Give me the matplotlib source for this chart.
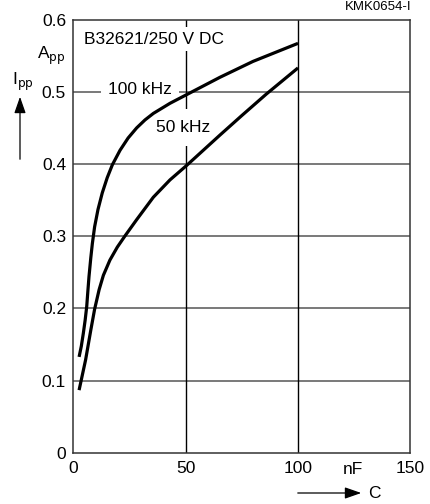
import matplotlib
matplotlib.use('Agg')
import matplotlib.pyplot as plt
from matplotlib.patches import FancyArrowPatch

plt.rcParams['font.family'] = ['Liberation Sans', 'DejaVu Sans']

# curves (C in nF, I in A_pp)
c_100k = [2.7, 3.7, 4.6, 5.4, 6.1, 6.6, 7.1, 7.9, 8.6, 9.6, 11.1, 13.0, 15.2, 17.5, 20.9, 24.5, 28.3, 32.0, 35.7, 43.1, 50.5, 65.3, 80.0, 100.0]
i_100k = [0.133, 0.148, 0.166, 0.184, 0.203, 0.224, 0.244, 0.270, 0.290, 0.313, 0.337, 0.360, 0.381, 0.399, 0.419, 0.436, 0.450, 0.461, 0.470, 0.484, 0.496, 0.520, 0.542, 0.567]

c_50k = [2.7, 5.6, 7.9, 9.6, 11.6, 13.5, 16.4, 19.7, 23.0, 28.3, 35.7, 43.1, 50.5, 57.9, 65.3, 75.0, 86.0, 100.0]
i_50k = [0.087, 0.129, 0.170, 0.199, 0.226, 0.246, 0.267, 0.285, 0.300, 0.323, 0.354, 0.378, 0.398, 0.419, 0.440, 0.467, 0.497, 0.533]

xticks = [0, 50, 100, 150]
yticks = [0, 0.1, 0.2, 0.3, 0.4, 0.5, 0.6]
fs = 12.5

fig = plt.figure(figsize=(4.31, 5.04), dpi=100)
ax = fig.add_axes([0.1694, 0.1012, 0.7830, 0.8601])

ax.plot(c_100k, i_100k, color='black', lw=2.3, solid_capstyle='butt', solid_joinstyle='round', zorder=3)
ax.plot(c_50k, i_50k, color='black', lw=2.3, solid_capstyle='butt', solid_joinstyle='round', zorder=3)

ax.set_xlim(0, 150)
ax.set_ylim(0, 0.6)
ax.set_xticks(xticks)
ax.set_yticks(yticks)
ax.set_xticklabels(['0', '50', '100', '150'])
ax.set_yticklabels(['0', '0.1', '0.2', '0.3', '0.4', '0.5', '0.6'])
ax.tick_params(length=0, labelsize=fs)
ax.tick_params(axis='x', pad=6)
ax.tick_params(axis='y', pad=5)

for y in yticks[1:-1]:
    ax.axhline(y, color='#555555', lw=1.1, zorder=1)
for x in [50, 100]:
    ax.axvline(x, color='black', lw=1.0, zorder=1)
for s in ax.spines.values():
    s.set_color('#333333')
    s.set_linewidth(1.1)

ax.text(5, 0.573, 'B32621/250 V DC', fontsize=fs, va='center', ha='left',
        bbox=dict(facecolor='white', edgecolor='none', pad=3), zorder=2)
ax.text(29.8, 0.503, '100 kHz', fontsize=fs, va='center', ha='center',
        bbox=dict(facecolor='white', edgecolor='none', pad=5), zorder=2)
ax.text(49.1, 0.450, '50 kHz', fontsize=fs, va='center', ha='center',
        bbox=dict(facecolor='white', edgecolor='none', pad=8), zorder=2)

# axis labels in datasheet style
fig.text(37 / 431, 1 - 56 / 504, r'A$_{\mathrm{pp}}$', fontsize=fs, ha='left', va='center')
fig.text(12 / 431, 1 - 82 / 504, r'I$_{\mathrm{pp}}$', fontsize=fs, ha='left', va='center')
fig.add_artist(FancyArrowPatch((20 / 431, 1 - 162 / 504), (20 / 431, 1 - 94 / 504),
               transform=fig.transFigure, arrowstyle='-|>,head_length=10,head_width=3.5',
               color='black', lw=0.9))
fig.text(353 / 431, 1 - 469 / 504, 'nF', fontsize=fs, ha='center', va='center')
fig.add_artist(FancyArrowPatch((295 / 431, 1 - 493 / 504), (364 / 431, 1 - 493 / 504),
               transform=fig.transFigure, arrowstyle='-|>,head_length=10,head_width=3.5',
               color='black', lw=0.9))
fig.text(368 / 431, 1 - 493 / 504, 'C', fontsize=fs, ha='left', va='center')
fig.text(412 / 431, 1 - 7 / 504, 'KMK0654-I', fontsize=9.5, ha='right', va='center')

fig.savefig('out.png', dpi=100)
